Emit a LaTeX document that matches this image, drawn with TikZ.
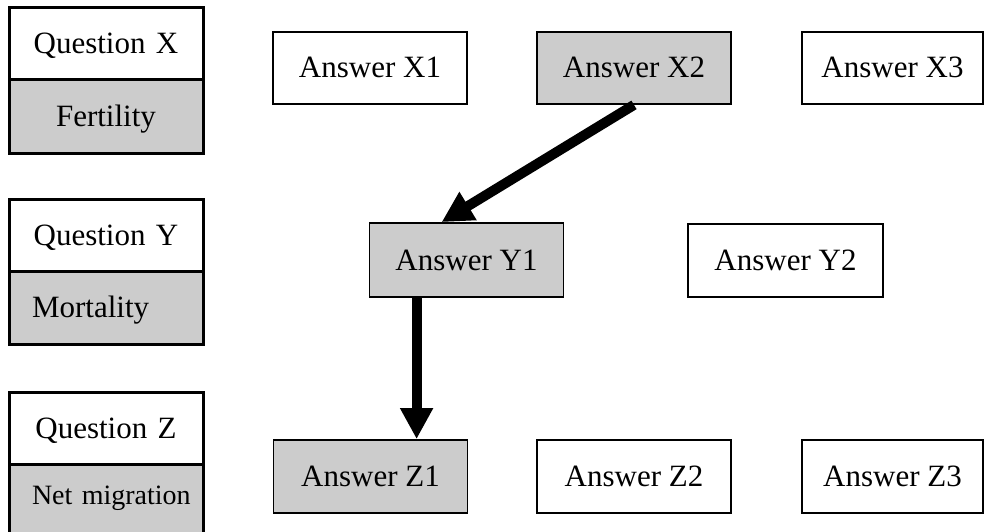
\documentclass[tikz,border=0pt]{standalone}
\usepackage{fontspec}
\setmainfont{Liberation Serif}
\usetikzlibrary{arrows.meta,calc}
\definecolor{shade}{RGB}{204,204,204}
\begin{document}
\begin{tikzpicture}[x=1pt,y=-1pt,
  ansbox/.style={draw=black,line width=1.8pt,minimum width=194pt,minimum height=72pt,
    inner sep=0pt,font=\fontsize{31}{36}\selectfont,text height=20pt,text depth=0pt},
  selbox/.style={ansbox,fill=shade},
  qtop/.style={draw=black,line width=3pt,fill=white,minimum width=194pt,minimum height=72pt,
    inner xsep=23pt,inner ysep=0pt,text width=148pt,align=center,
    font=\fontsize{31}{36}\selectfont,text height=20pt,text depth=0pt},
  qlow/.style={qtop,fill=shade,minimum height=73pt},
  bigarrow/.style={line width=10pt,-{Triangle[width=31pt,length=31pt]}}]
\useasboundingbox (0,0) rectangle (984,532);
\clip (0,0) rectangle (984,532);
\fill[white] (0,0) rectangle (984,532);
% question boxes
\node[qtop] (QX) at (106,44) {Question X};
\node[qlow] (QXa) at (106,116.5) {Fertility};
\node[qtop] (QY) at (106,235.5) {Question Y};
\node[qlow,align=left] (QYa) at (106,307.5) {Mortality};
\node[qtop] (QZ) at (106,428) {Question Z};
\node[qlow,align=left,minimum height=90pt,font=\fontsize{28}{32}\selectfont,text height=18pt] (QZa) at (106,509) {\raisebox{14pt}{Net migration}};
% answers
\node[ansbox] (X1) at (370,68) {Answer X1};
\node[selbox] (X2) at (634,68) {Answer X2};
\node[ansbox,minimum width=181pt] (X3) at (892.5,68) {Answer X3};
\node[selbox,minimum height=74pt] (Y1) at (466.5,260) {Answer Y1};
\node[ansbox,minimum width=195pt,minimum height=73pt] (Y2) at (785.5,260.5) {Answer Y2};
\node[selbox,minimum height=73pt] (Z1) at (370.5,476.5) {Answer Z1};
\node[ansbox,minimum height=73pt] (Z2) at (634,476.5) {Answer Z2};
\node[ansbox,minimum width=181pt,minimum height=73pt] (Z3) at (892.5,476.5) {Answer Z3};
% arrows
\coordinate (t1) at ([xshift=73pt]Y1.north west);
\draw[bigarrow] (X2.south) -- (t1);
\coordinate (s2) at ([xshift=48pt]Y1.south west);
\draw[bigarrow] (s2) -- (s2 |- Z1.north);
\end{tikzpicture}
\end{document}
